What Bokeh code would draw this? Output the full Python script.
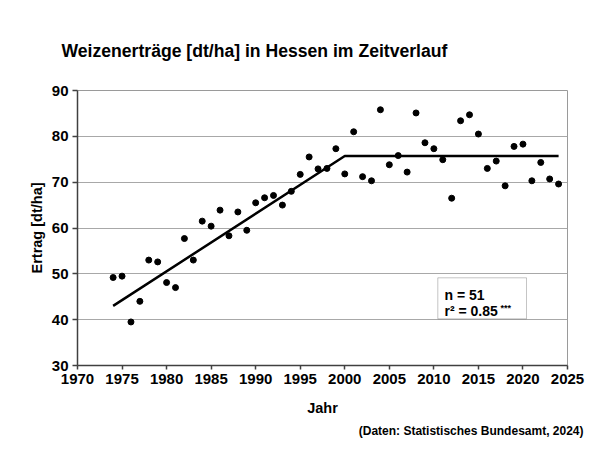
from bokeh.plotting import figure
from bokeh.models import Label, BoxAnnotation, FixedTicker, Title
from bokeh.embed import file_html
from bokeh.resources import INLINE

# ---- data ----
years = list(range(1974, 2025))
yields = [49.2, 49.5, 39.5, 44.0, 53.0, 52.6, 48.1, 47.0, 57.7, 53.0,
          61.5, 60.4, 63.9, 58.3, 63.5, 59.5, 65.5,
          66.6, 67.1, 65.0, 68.0, 71.7, 75.5, 72.9, 73.0, 77.3, 71.8,
          81.0, 71.2, 70.3, 85.8, 73.8, 75.8, 72.2, 85.1, 78.6, 77.3,
          74.9, 66.5, 83.4, 84.7, 80.5, 73.0, 74.6, 69.2, 77.8, 78.3,
          70.3, 74.3, 70.7, 69.6]
trend_years = [1974, 2000, 2024]
trend_values = [43.0, 75.7, 75.7]
x_ticks = [1970, 1975, 1980, 1985, 1990, 1995, 2000, 2005, 2010, 2015, 2020, 2025]
y_ticks = [30, 40, 50, 60, 70, 80, 90]
title_text = "Weizenerträge [dt/ha] in Hessen im Zeitverlauf"
source_text = "(Daten: Statistisches Bundesamt, 2024)"
n_text = "n = 51"
r2_text = "r² = 0.85"
sig_text = "***"

FONT = "Liberation Sans"
FL, FB = 77, 365  # frame left / bottom in canvas px

p = figure(width=600, height=450, x_range=(1970, 2025), y_range=(30, 90),
           output_backend="svg", toolbar_location=None,
           min_border_left=77, min_border_right=33,
           min_border_top=90, min_border_bottom=85)
p.background_fill_color = "white"
p.border_fill_color = "white"
p.outline_line_color = "#9a9a9a"
p.outline_line_width = 1

p.title.text = title_text
p.title.text_font = FONT
p.title.text_font_style = "bold"
p.title.text_font_size = "17.6px"
p.title.text_color = "black"
p.title.align = "left"
p.title.offset = -16
p.title.standoff = 60

src = Title(text=source_text, align="right", offset=-16, standoff=7,
            text_font=FONT, text_font_style="bold", text_font_size="12px",
            text_color="black")
p.add_layout(src, "below")

p.xgrid.grid_line_color = None
p.ygrid.grid_line_color = "#a8a8a8"
p.ygrid.grid_line_width = 1

for ax in (p.xaxis[0], p.yaxis[0]):
    ax.axis_line_color = "#404040"
    ax.axis_line_width = 1.5
    ax.major_tick_line_color = "#404040"
    ax.major_tick_line_width = 1.5
    ax.major_tick_in = 0
    ax.minor_tick_line_color = None
    ax.major_label_text_font = FONT
    ax.major_label_text_font_style = "bold"
    ax.major_label_text_font_size = "15px"
    ax.major_label_text_color = "black"
    ax.axis_label_text_font = FONT
    ax.axis_label_text_font_style = "bold"
    ax.axis_label_text_font_size = "14.5px"
    ax.axis_label_text_color = "black"

p.xaxis.ticker = FixedTicker(ticks=x_ticks)
p.yaxis.ticker = FixedTicker(ticks=y_ticks)
p.xaxis.major_tick_out = 4
p.yaxis.major_tick_out = 5
p.xaxis.major_label_standoff = 4
p.yaxis.major_label_standoff = 4
p.xaxis.axis_label = "Jahr"
p.yaxis.axis_label = "Ertrag [dt/ha]"
p.xaxis.axis_label_standoff = 13
p.yaxis.axis_label_standoff = 4

p.line(trend_years, trend_values, line_color="black", line_width=2.5)
p.scatter(years, yields, size=6, fill_color="black", line_color="black")

# stats box
p.add_layout(BoxAnnotation(left=437.3 - FL, right=526 - FL, top=FB - 277.3, bottom=FB - 318.3,
                           left_units="screen", right_units="screen",
                           top_units="screen", bottom_units="screen",
                           fill_color="white", fill_alpha=1.0,
                           line_color="#404040", line_width=1, level="overlay"))

def lab(text, cx, cy, size, align="left", baseline="alphabetic"):
    p.add_layout(Label(x=cx - FL, y=FB - cy, x_units="screen", y_units="screen",
                       text=text, text_font=FONT, text_font_style="bold",
                       text_font_size=size, text_color="black",
                       text_align=align, text_baseline=baseline, level="overlay"))

lab(n_text, 444, 294.3, "14px")
lab(r2_text, 444, 310.7, "14px")
lab(sig_text, 500, 302.5, "9px", baseline="top")

open("out.html", "w").write(file_html(p, INLINE))
